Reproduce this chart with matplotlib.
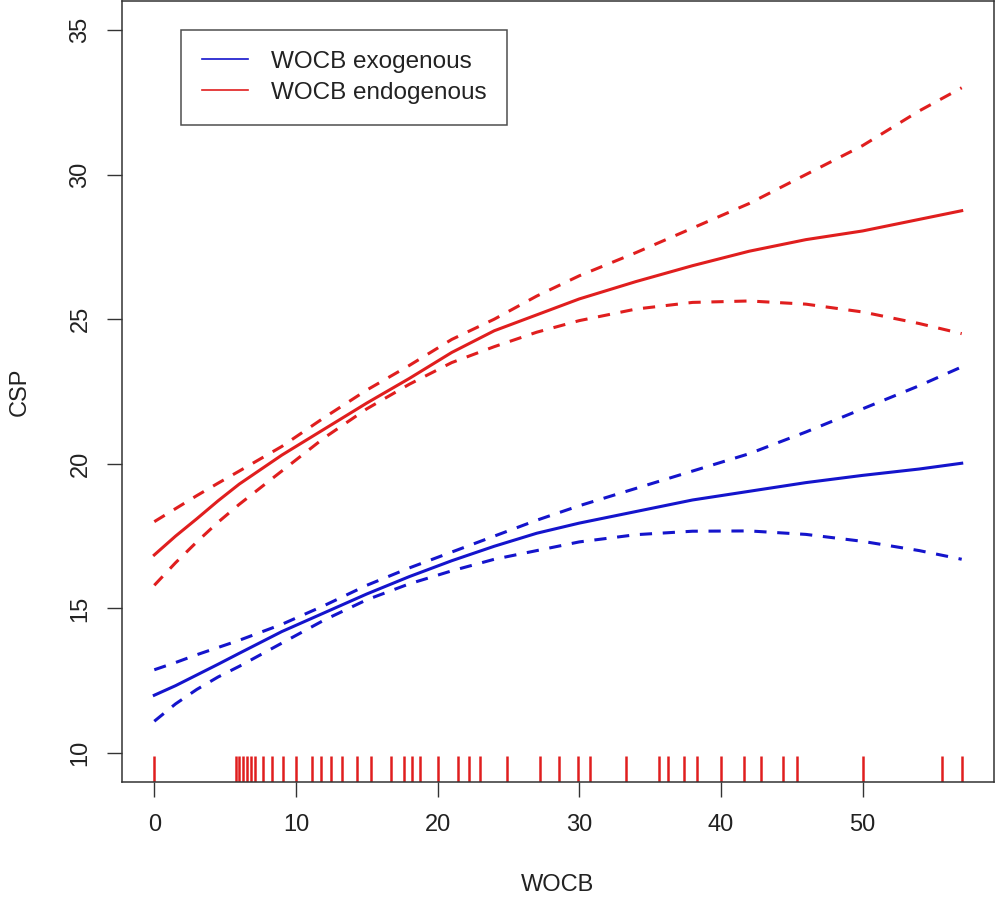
import numpy as np
import matplotlib
matplotlib.use("Agg")
import matplotlib.pyplot as plt
from matplotlib.lines import Line2D

plt.rcParams['font.family'] = ['Liberation Sans', 'DejaVu Sans']

# grid of WOCB values where curves were read
wocb = [0, 1.5, 3, 4.5, 6, 9, 12, 15, 18, 21, 24, 27, 30, 34, 38, 42, 46, 50, 54, 57]

# exogenous (blue)
exo_fit = [12.0, 12.33, 12.7, 13.07, 13.45, 14.2, 14.85, 15.5, 16.1, 16.65,
           17.15, 17.6, 17.95, 18.35, 18.75, 19.05, 19.35, 19.6, 19.82, 20.02]
exo_upper = [12.88, 13.13, 13.4, 13.65, 13.9, 14.45, 15.1, 15.8, 16.4, 16.95,
             17.5, 18.05, 18.55, 19.15, 19.75, 20.35, 21.1, 21.9, 22.7, 23.35]
exo_lower = [11.1, 11.7, 12.2, 12.63, 13.0, 13.8, 14.6, 15.3, 15.85, 16.3,
             16.7, 17.0, 17.3, 17.55, 17.67, 17.68, 17.56, 17.32, 17.0, 16.7]

# endogenous (red)
endo_fit = [16.85, 17.5, 18.1, 18.72, 19.3, 20.3, 21.2, 22.1, 22.95, 23.85,
            24.6, 25.15, 25.7, 26.3, 26.85, 27.35, 27.75, 28.05, 28.45, 28.75]
endo_upper = [18.0, 18.45, 18.9, 19.33, 19.75, 20.6, 21.6, 22.55, 23.4, 24.3,
              25.0, 25.8, 26.5, 27.3, 28.15, 29.0, 30.0, 31.0, 32.2, 33.0]
endo_lower = [15.8, 16.58, 17.3, 17.98, 18.6, 19.75, 20.9, 21.9, 22.75, 23.5,
              24.05, 24.55, 24.95, 25.35, 25.58, 25.63, 25.52, 25.25, 24.85, 24.5]

# observed WOCB values (rug)
rug_x = [0, 5.75, 6.0, 6.25, 6.56, 6.8, 7.1, 7.67, 8.33, 9.1, 10.0, 11.15,
         11.74, 12.5, 13.27, 14.33, 15.32, 16.7, 17.6, 18.2, 18.78, 20.0,
         21.47, 22.2, 23.0, 24.9, 27.2, 28.55, 29.93, 30.75, 33.3, 35.6,
         36.3, 37.4, 38.3, 40.0, 41.6, 42.8, 44.4, 45.4, 50.0, 55.6, 57.0]

blue = '#1414cc'
red = '#e01e1e'
fs = 17

fig = plt.figure(figsize=(9.96, 9.06), dpi=100)
ax = fig.add_axes([122/996, 1 - 782/906, 872/996, 781/906])

dash = (0, (4, 3.5))
ax.plot(wocb, exo_fit, color=blue, lw=2.2)
ax.plot(wocb, exo_upper, color=blue, lw=2.2, linestyle=dash)
ax.plot(wocb, exo_lower, color=blue, lw=2.2, linestyle=dash)
ax.plot(wocb, endo_fit, color=red, lw=2.2)
ax.plot(wocb, endo_upper, color=red, lw=2.2, linestyle=dash)
ax.plot(wocb, endo_lower, color=red, lw=2.2, linestyle=dash)

ax.vlines(rug_x, 0, 0.033, transform=ax.get_xaxis_transform(), color=red, lw=1.8)

ax.set_xlim(-2.28, 59.28)
ax.set_ylim(9, 36)
ax.set_xticks([0, 10, 20, 30, 40, 50])
ax.set_yticks([10, 15, 20, 25, 30, 35])
ax.tick_params(direction='out', length=11, width=1, color='#333333',
               labelsize=fs, labelcolor='#222222')
ax.tick_params(axis='x', pad=12)
ax.tick_params(axis='y', pad=11)
for lab in ax.get_yticklabels():
    lab.set_rotation(90)
    lab.set_va('center')
for s in ax.spines.values():
    s.set_color('#333333')
    s.set_linewidth(1.1)

ax.set_xlabel('WOCB', fontsize=fs, color='#222222')
ax.set_ylabel('CSP', fontsize=fs, color='#222222')
ax.xaxis.set_label_coords(0.5, -0.118)
ax.yaxis.set_label_coords(-0.105, 0.5)

handles = [Line2D([], [], color=blue, lw=1.2), Line2D([], [], color=red, lw=1.2)]
leg = ax.legend(handles, ['WOCB exogenous', 'WOCB endogenous'],
                loc='upper left', bbox_to_anchor=(0.0677, 0.9629),
                borderaxespad=0, fontsize=fs + 0.5, frameon=True, fancybox=False,
                edgecolor='#222222', handlelength=1.9, handletextpad=0.95,
                borderpad=0.85, labelspacing=0.38)
leg.get_frame().set_linewidth(1.1)
for t in leg.get_texts():
    t.set_color('#222222')

fig.savefig('out.png', dpi=100)
